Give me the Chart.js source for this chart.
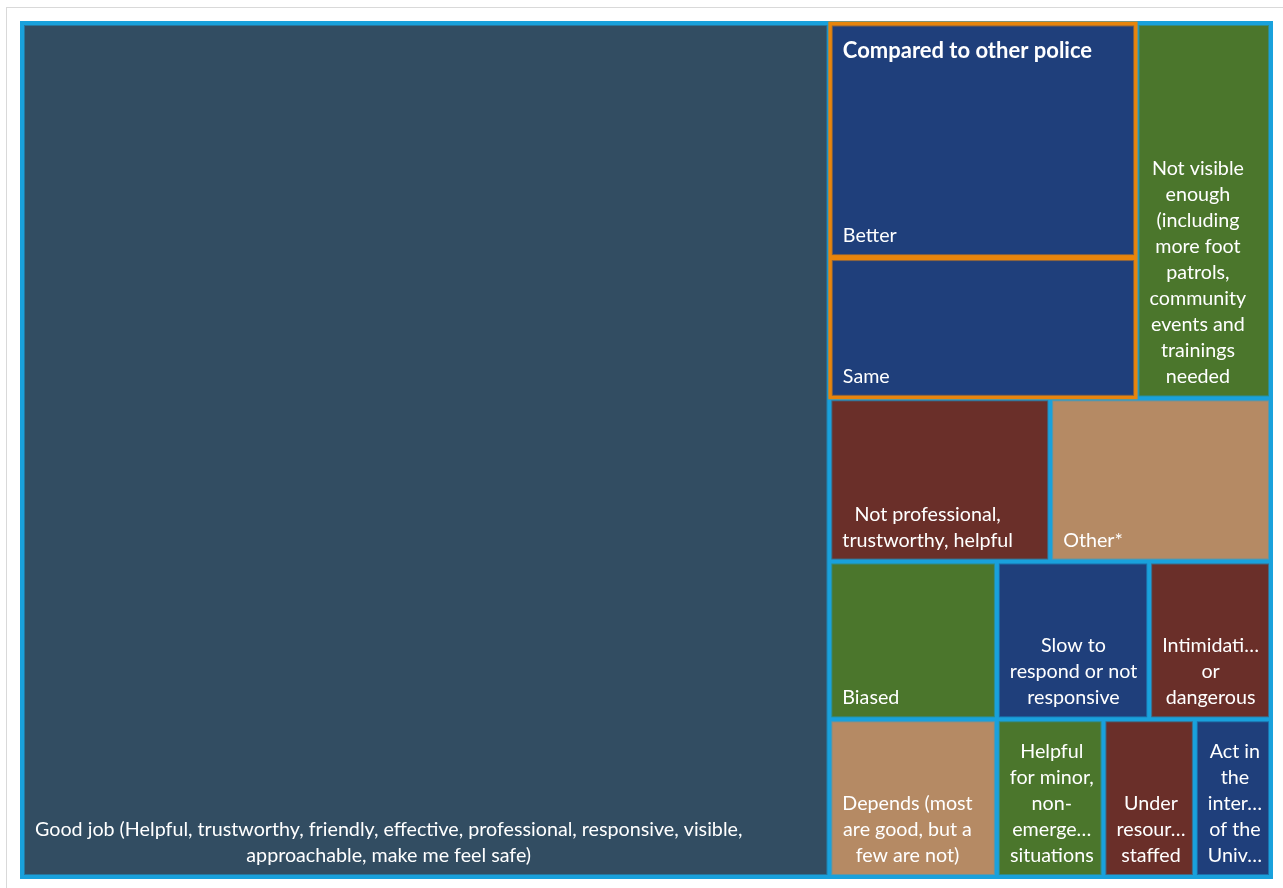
<!DOCTYPE html>
<html><head><meta charset="utf-8">
<script src="https://cdn.jsdelivr.net/npm/chart.js@4.4.1/dist/chart.umd.min.js"></script>
<style>
html,body{margin:0;padding:0;background:#fff;overflow:hidden;width:1283px;height:888px;}
#card{position:absolute;left:6px;top:7px;width:1300px;height:900px;border:1px solid #d9d9d9;background:#fff;}
#c{position:absolute;left:0;top:0;}
</style></head><body>
<div id="card"></div>
<canvas id="c" width="1283" height="888"></canvas>
<script>
// ---- data (leaf labels shown as they appear, line breaks with \n) ----
const categories = [
  'Good job (Helpful, trustworthy, friendly, effective, professional, responsive, visible,\napproachable, make me feel safe)',
  'Better',
  'Same',
  'Not visible\nenough\n(including\nmore foot\npatrols,\ncommunity\nevents and\ntrainings\nneeded',
  'Not professional,\ntrustworthy, helpful',
  'Other*',
  'Biased',
  'Slow to\nrespond or not\nresponsive',
  'Intimidati\u2026\nor\ndangerous',
  'Depends (most\nare good, but a\nfew are not)',
  'Helpful\nfor minor,\nnon-\nemerge\u2026\nsituations',
  'Under\nresour\u2026\nstaffed',
  'Act in\nthe\ninter\u2026\nof the\nUniv\u2026'
];
const parents = ['', 'Compared to other police', 'Compared to other police', '', '', '', '', '', '', '', '', '', ''];
const counts = [287, 30, 18, 21, 15, 15, 11, 10, 8, 11, 7, 6, 5];

// ---- styles ----
const leafColors = ['#324d62', '#1f3f7b', '#1f3f7b', '#4b762c', '#6a2f29', '#b58a64', '#4b762c', '#1f3f7b', '#6a2f29', '#b58a64', '#4b762c', '#6a2f29', '#1f3f7b'];
const ROOT_BORDER = '#19a1dc';
const GROUP_BORDER = '#e8850c';
const LEAF_FONT = '19.7px Lato';
const GROUP_FONT = 'bold 22px Lato';
const LINE_H = 26;

function buildNodes() {
  const nodes = [];
  categories.forEach((label, i) => {
    const p = parents[i];
    const leaf = { lines: label.split('\n'), value: counts[i], color: leafColors[i] };
    if (p) {
      let g = nodes.find(n => n.group === p);
      if (!g) { g = { group: p, value: 0, children: [] }; nodes.push(g); }
      g.children.push(leaf); g.value += counts[i];
    } else nodes.push(leaf);
  });
  return nodes;
}

// ordered squarified layout: strips grow while the first item of the strip gets squarer;
// strip direction follows the container and only flips when the remainder is clearly mis-shaped
function squarify(values, rect, sx, sy, ratio) {
  const n = values.length, out = new Array(n);
  const r = { ...rect };
  let i = 0, orient = null;
  while (i < n) {
    const pw = r.w * sx, ph = r.h * sy;
    if (orient === null) orient = pw >= ph ? 'col' : 'row';
    else if (orient === 'col' && ph > pw * 1.6) orient = 'row';
    else if (orient === 'row' && pw > ph * 1.6) orient = 'col';
    const wide = orient === 'col';
    const side = wide ? r.h : r.w;
    const firstRatio = s => { const t = s / side, len = values[i] / t; return wide ? ratio(t, len) : ratio(len, t); };
    let sum = values[i], best = firstRatio(sum), j = i + 1;
    while (j < n) {
      const s2 = sum + values[j], a2 = firstRatio(s2);
      if (a2 < best) { best = a2; sum = s2; j++; } else break;
    }
    let t = sum / side;
    if (j >= n) t = wide ? r.w : r.h;
    let pos = wide ? r.y : r.x;
    for (let k = i; k < j; k++) {
      const len = values[k] / sum * side;
      out[k] = wide ? { x: r.x, y: pos, w: t, h: len } : { x: pos, y: r.y, w: len, h: t };
      pos += len;
    }
    if (wide) { r.x += t; r.w -= t; } else { r.y += t; r.h -= t; }
    i = j;
  }
  return out;
}

const treemapPlugin = {
  id: 'treemapPlugin',
  afterDatasetsDraw(chart) {
    const { ctx, chartArea: ca, scales: { x, y } } = chart;
    const dataW = x.max - x.min, dataH = y.max - y.min;
    const sx = (ca.right - ca.left) / dataW, sy = (ca.bottom - ca.top) / dataH;
    const ratio = (w, h) => { const q = (w * sx) / (h * sy); return Math.max(q, 1 / q); };
    const toPx = r => ({ l: x.getPixelForValue(r.x), r: x.getPixelForValue(r.x + r.w), t: y.getPixelForValue(r.y), b: y.getPixelForValue(r.y + r.h) });

    const nodes = buildNodes();
    const total = nodes.reduce((a, n) => a + n.value, 0);
    const area = dataW * dataH;
    const rects = squarify(nodes.map(n => n.value / total * area), { x: x.min, y: y.min, w: dataW, h: dataH }, sx, sy, ratio);

    ctx.save();
    ctx.fillStyle = ROOT_BORDER;
    ctx.fillRect(ca.left - 2, ca.top - 2, ca.right - ca.left + 4, ca.bottom - ca.top + 4);

    const drawCell = (p, color, inset) => {
      const l = p.l + inset, t = p.t + inset, w = p.r - p.l - 2 * inset, h = p.b - p.t - 2 * inset;
      ctx.fillStyle = color;
      ctx.globalAlpha = 0.5; ctx.fillRect(l, t, w, h);
      ctx.globalAlpha = 1; ctx.fillRect(l + 1, t + 1, w - 2, h - 2);
      return { l: l + 1, t: t + 1, r: l + w - 1, b: t + h - 1 };
    };
    const drawLabel = (lines, box) => {
      ctx.font = LEAF_FONT; ctx.fillStyle = '#ffffff'; ctx.textAlign = 'left'; ctx.textBaseline = 'alphabetic';
      const widths = lines.map(s => ctx.measureText(s).width);
      const maxW = Math.max(...widths);
      const left = box.l + 10;
      const base0 = box.b - 12 - (lines.length - 1) * LINE_H;
      lines.forEach((s, k) => ctx.fillText(s, left + (maxW - widths[k]) / 2, base0 + k * LINE_H));
    };

    nodes.forEach((node, i) => {
      const p = toPx(rects[i]);
      if (node.children) {
        ctx.fillStyle = GROUP_BORDER;
        ctx.fillRect(p.l - 1, p.t - 1.5, p.r - p.l + 2, p.b - p.t + 2.5);
        const sub = squarify(node.children.map(c => c.value / total * area), rects[i], sx, sy, ratio);
        let firstBox = null;
        node.children.forEach((c, k) => {
          const box = drawCell(toPx(sub[k]), c.color, 2.5);
          if (!firstBox) firstBox = box;
          drawLabel(c.lines, box);
        });
        ctx.font = GROUP_FONT; ctx.fillStyle = '#ffffff'; ctx.textAlign = 'left'; ctx.textBaseline = 'alphabetic';
        ctx.fillText(node.group, firstBox.l + 10, firstBox.t + 31);
      } else {
        const box = drawCell(p, node.color, 2);
        drawLabel(node.lines, box);
      }
    });
    ctx.restore();
  }
};

function render() {
  new Chart(document.getElementById('c'), {
    type: 'scatter',
    data: { datasets: [{ data: [], pointRadius: 0 }] },
    options: {
      responsive: false,
      animation: false,
      devicePixelRatio: 1,
      layout: { padding: { left: 22, top: 23, right: 12, bottom: 11 } },
      plugins: { legend: { display: false }, tooltip: { enabled: false } },
      scales: {
        x: { type: 'linear', min: 0, max: 1, display: false },
        y: { type: 'linear', min: 0, max: 1, reverse: true, display: false }
      }
    },
    plugins: [treemapPlugin]
  });
}
Promise.all([document.fonts.load(LEAF_FONT), document.fonts.load(GROUP_FONT)]).then(render, render);
</script>
</body></html>
